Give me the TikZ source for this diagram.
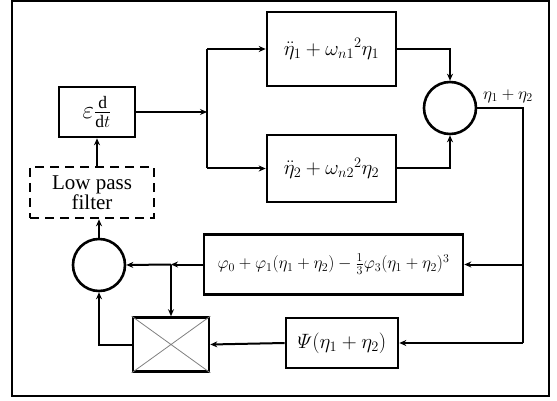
\documentclass[tikz,border=0pt]{standalone}
\usepackage{amsmath}
\usepackage{fontspec}
\setmainfont{Liberation Serif}
\usetikzlibrary{arrows.meta}
\begin{document}
\begin{tikzpicture}[x=1pt,y=-1pt,
  blk/.style={draw,line width=2.6pt,inner sep=0pt,font=\fontsize{20}{20}\selectfont},
  sumnode/.style={draw,line width=2.6pt,circle,minimum size=52pt,inner sep=0pt},
  conn/.style={line width=2pt,-{Stealth[length=7pt,width=6pt]}},
  wire/.style={line width=2pt}]
\useasboundingbox (0,0) rectangle (557,401);
\draw[line width=1.2pt] (12,1) rectangle (549,396);
\node[blk,minimum width=76pt,minimum height=50pt,font=\fontsize{25}{25}\selectfont] (eps) at (97,112) {$\varepsilon\frac{\mathrm{d}}{\mathrm{d}t}$};
\node[blk,minimum width=129pt,minimum height=74pt] (top) at (331.5,49) {$\ddot{\eta}_1+{\omega_{n1}}^2\eta_1$};
\node[blk,minimum width=129pt,minimum height=67pt] (bot) at (331.5,168.5) {$\ddot{\eta}_2+{\omega_{n2}}^2\eta_2$};
\node[sumnode] (sum1) at (450,108) {};
\node[blk,minimum width=259pt,minimum height=60pt,font=\fontsize{18}{18}\selectfont] (nl) at (333.5,264.5) {$\varphi_0+\varphi_1(\eta_1+\eta_2)-\frac{1}{3}\varphi_3(\eta_1+\eta_2)^3$};
\node[blk,minimum width=112pt,minimum height=50pt] (psi) at (342,343) {$\varPsi(\eta_1+\eta_2)$};
\node[blk,minimum width=76pt,minimum height=54pt] (mult) at (171,344.5) {};
\draw[line width=0.8pt,gray] (mult.north west) -- (mult.south east) (mult.north east) -- (mult.south west);
\node[sumnode] (sum2) at (99,265) {};
\node[blk,dashed,dash pattern=on 9pt off 6pt,minimum width=124pt,minimum height=51pt,align=center,font=\fontsize{21}{19}\selectfont] (lpf) at (92,192.5) {Low pass\\filter};
\node[font=\fontsize{18}{18}\selectfont,anchor=center] (lab) at (508,96) {$\eta_1+\eta_2$};
\coordinate (j1) at (207,112);
\coordinate (j1t) at (207,49);
\coordinate (j1b) at (207,168.5);
\coordinate (c1) at (523,108);
\coordinate (c3) at (523,264.5);
\coordinate (c2) at (523,343);
\coordinate (j2) at (171,264.5);
\draw[conn] (eps.east) -- (j1);
\draw[wire] (j1t) -- (j1b);
\draw[conn] (j1t) -- (top.west);
\draw[conn] (j1b) -- (bot.west);
\draw[conn] (top.east) -| (sum1.north);
\draw[conn] (bot.east) -| (sum1.south);
\draw[wire] (sum1.east) -- (c1) -- (c2);
\draw[conn] (c3) -- (nl.east);
\draw[conn] (c2) -- (psi.east);
\draw[conn] (psi.west) -- (mult.east);
\draw[conn] (nl.west) -- (j2);
\draw[conn] (j2) -- (sum2.east);
\draw[conn] (j2) -- (mult.north);
\draw[conn] (mult.west) -| (sum2.south);
\draw[conn] (sum2.north) -- (sum2.north |- lpf.south);
\draw[conn] (lpf.north -| eps.south) -- (eps.south);
\end{tikzpicture}
\end{document}
